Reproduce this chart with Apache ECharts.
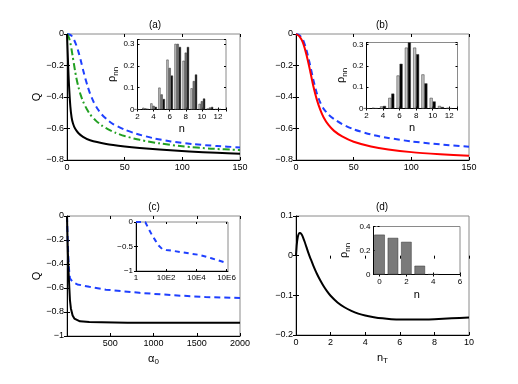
<!DOCTYPE html>
<html>
<head>
<meta charset="utf-8">
<script src="https://cdn.jsdelivr.net/npm/echarts@6/dist/echarts.min.js"></script>
<style>html,body{margin:0;padding:0;background:#fff}#main{width:518px;height:384px}</style>
</head>
<body>
<div id="main"></div>
<script>
// ---- panel (a) ----
const aBlackX = [0, 0.5, 1, 1.7, 2.9, 4, 5.2, 7, 10, 13.9, 20, 34, 50, 63, 80, 106, 130, 150]
const aBlackY = [0, -0.1, -0.2, -0.32, -0.46, -0.53, -0.568, -0.6, -0.63, -0.653, -0.675, -0.698, -0.714, -0.724, -0.734, -0.746, -0.754, -0.76]
const aGreenX = [0, 1, 2, 3, 4, 5, 6, 7, 8, 10, 12, 14, 17, 20, 25, 30, 35, 42, 50, 63, 80, 100, 125, 150]
const aGreenY = [0, -0.01, -0.03, -0.06, -0.1, -0.145, -0.19, -0.235, -0.275, -0.34, -0.39, -0.43, -0.475, -0.51, -0.55, -0.58, -0.603, -0.627, -0.648, -0.672, -0.694, -0.713, -0.728, -0.737]
const aBlueX = [0, 2, 4, 6, 8, 10, 12, 14, 16, 18, 20, 23, 26, 30, 35, 40, 50, 60, 75, 90, 110, 130, 150]
const aBlueY = [0, -0.003, -0.012, -0.035, -0.07, -0.115, -0.17, -0.23, -0.285, -0.335, -0.378, -0.43, -0.47, -0.51, -0.545, -0.572, -0.607, -0.633, -0.662, -0.682, -0.7, -0.711, -0.72]
// inset (a): photon distribution, three cases
const insetN = [2, 3, 4, 5, 6, 7, 8, 9, 10, 11, 12]
const aRho1 = [0.001, 0.008, 0.028, 0.1, 0.228, 0.3, 0.223, 0.097, 0.026, 0.005, 0.002]
const aRho2 = [0.001, 0.005, 0.017, 0.069, 0.19, 0.3, 0.26, 0.13, 0.038, 0.009, 0.002]
const aRho3 = [0, 0.003, 0.012, 0.048, 0.155, 0.286, 0.286, 0.16, 0.05, 0.012, 0.002]

// ---- panel (b) ----
const bX = [0, 3, 6, 9, 12, 15, 18, 21, 24, 28, 33, 40, 50, 65, 80, 100, 125, 150]
const bRedY = [0, -0.015, -0.055, -0.13, -0.225, -0.33, -0.415, -0.48, -0.53, -0.576, -0.615, -0.65, -0.684, -0.714, -0.733, -0.75, -0.763, -0.773]
const bBlueY = [0, -0.008, -0.035, -0.1, -0.19, -0.29, -0.375, -0.435, -0.475, -0.51, -0.54, -0.572, -0.605, -0.638, -0.66, -0.682, -0.701, -0.716]
const bRho1 = [0.001, 0.003, 0.01, 0.05, 0.155, 0.286, 0.286, 0.16, 0.05, 0.012, 0.003]
const bRho2 = [0, 0.001, 0.012, 0.07, 0.21, 0.31, 0.255, 0.118, 0.033, 0.007, 0.001]

// ---- panel (c) ----
const cBlackX = [0, 5, 10, 19, 27, 34, 45, 65, 85, 104, 150, 258, 400, 700, 1000, 1500, 2000]
const cBlackY = [0, -0.15, -0.3, -0.48, -0.6, -0.7, -0.77, -0.83, -0.855, -0.87, -0.878, -0.883, -0.886, -0.889, -0.889, -0.89, -0.89]
const cBlueX = [0, 3, 8, 14, 20, 34, 65, 120, 258, 450, 835, 1220, 1600, 2000]
const cBlueY = [0, -0.08, -0.2, -0.32, -0.42, -0.52, -0.55, -0.57, -0.59, -0.614, -0.64, -0.66, -0.675, -0.683]
// inset (c): x as log10(alpha0)
const cInsetLogX = [0, 0.3, 0.62, 0.84, 1.05, 1.29, 1.5, 1.73, 2.0, 2.4, 3.0, 3.6, 4.18, 5.0, 5.95]
const cInsetY = [0, 0, -0.005, -0.14, -0.26, -0.38, -0.48, -0.55, -0.57, -0.586, -0.615, -0.645, -0.67, -0.74, -0.83]
const cInsetTicks = [0, 2, 4, 6]

// ---- panel (d) ----
const dX = [0, 0.05, 0.1, 0.15, 0.2, 0.25, 0.32, 0.4, 0.5, 0.6, 0.7, 0.8, 0.9, 1, 1.2, 1.4, 1.6, 1.8, 2, 2.4, 2.8, 3.2, 3.6, 4, 4.5, 5, 5.5, 6, 7, 8, 9, 10]
const dY = [0, 0.03, 0.046, 0.054, 0.057, 0.057, 0.054, 0.047, 0.035, 0.022, 0.009, -0.003, -0.014, -0.025, -0.045, -0.062, -0.077, -0.09, -0.101, -0.118, -0.13, -0.139, -0.146, -0.151, -0.155, -0.158, -0.16, -0.161, -0.161, -0.16, -0.158, -0.156]
const dInsetN = [0, 1, 2, 3, 4]
const dInsetRho = [0.332, 0.305, 0.272, 0.073, 0.002]
const dInsetTicks = [0, 2, 4, 6]

const font = 'Liberation Sans, Arial, Helvetica, sans-serif'
const minus = v => String(v).replace('-', '\u2212')
const zip = (xs, ys) => xs.map((x, i) => [x, ys[i]])

const grids = [
  {left: 67, top: 34, width: 173, height: 126},     // a
  {left: 296, top: 34, width: 173, height: 126},    // b
  {left: 67, top: 216, width: 173, height: 120},    // c
  {left: 296, top: 216, width: 173, height: 119},   // d
  {left: 137.5, top: 39.5, width: 88.5, height: 70},  // inset a
  {left: 366.5, top: 42.5, width: 91, height: 66},    // inset b
  {left: 136, top: 222, width: 92, height: 49},       // inset c
  {left: 373.5, top: 226.5, width: 86.5, height: 48}  // inset d
].map(g => Object.assign(g, {show: true, borderColor: '#8a8a8a', borderWidth: 1, backgroundColor: '#fff'}))

const xAxes = [], yAxes = []
const nameStyle = {color: '#000', fontFamily: font, fontSize: 11,
  rich: {m: {fontSize: 11, fontFamily: font}, s: {fontSize: 8, fontFamily: font, verticalAlign: 'bottom', padding: [7, 0, 0, 0]}}}

// small: inset axes use a smaller label font
const addAxes = (gi, x, y, small) => {
  const tick = {inside: true, length: small ? 2 : 3, lineStyle: {color: '#000', width: 1}}
  const custom = x.custom ? {customValues: x.custom} : {}
  const fs = small ? 8 : 9
  xAxes.push({gridIndex: gi, type: 'value', min: x.min, max: x.max, interval: x.interval, position: 'bottom',
    axisLine: {onZero: false, lineStyle: {color: '#000', width: 1}},
    axisTick: Object.assign({}, tick, custom),
    axisLabel: Object.assign({color: '#000', fontSize: fs, fontFamily: font, margin: 3, formatter: x.fmt || minus}, custom),
    splitLine: {show: false}, name: x.name, nameLocation: 'middle', nameGap: x.gap, nameTextStyle: nameStyle})
  xAxes.push({gridIndex: gi, type: 'value', min: x.min, max: x.max, interval: x.interval, position: 'top',
    axisLine: {show: false}, axisTick: Object.assign({}, tick, custom),
    axisLabel: {show: false}, splitLine: {show: false}})
  yAxes.push({gridIndex: gi, type: 'value', min: y.min, max: y.max, interval: y.interval, position: 'left',
    axisLine: {onZero: false, lineStyle: {color: '#000', width: 1}}, axisTick: tick,
    axisLabel: {color: '#000', fontSize: fs, fontFamily: font, margin: 3, formatter: y.fmt || minus},
    splitLine: {show: false}, name: y.name, nameLocation: 'middle', nameRotate: 90, nameGap: y.gap, nameTextStyle: nameStyle})
  yAxes.push({gridIndex: gi, type: 'value', min: y.min, max: y.max, interval: y.interval, position: 'right',
    axisLine: {show: false}, axisTick: tick, axisLabel: {show: false}, splitLine: {show: false}})
}

const rhoName = '{m|\u03c1}{s|nn}'
addAxes(0, {min: 0, max: 150, interval: 50}, {min: -0.8, max: 0, interval: 0.2, name: 'Q', gap: 24})
addAxes(1, {min: 0, max: 150, interval: 50}, {min: -0.8, max: 0, interval: 0.2})
addAxes(2, {min: 0, max: 2000, interval: 500, fmt: v => v === 0 ? '' : v, name: '{m|\u03b1}{s|0}', gap: 15},
  {min: -1, max: 0, interval: 0.2, name: 'Q', gap: 24})
addAxes(3, {min: 0, max: 10, interval: 2, name: '{m|n}{s|T}', gap: 15}, {min: -0.2, max: 0.1, interval: 0.1})
addAxes(4, {min: 2, max: 13, interval: 2, fmt: v => v === 13 ? '' : v, name: 'n', gap: 14},
  {min: 0, max: 0.32, interval: 0.1, fmt: v => v > 0.31 ? '' : v, name: rhoName, gap: 16}, true)
addAxes(5, {min: 2, max: 13, interval: 2, fmt: v => v === 13 ? '' : v, name: 'n', gap: 14},
  {min: 0, max: 0.31, interval: 0.1, fmt: v => v > 0.305 ? '' : v, name: rhoName, gap: 16}, true)
addAxes(6, {min: 0, max: 6.1, custom: cInsetTicks, fmt: v => v === 0 ? '1' : '10E' + v},
  {min: -1, max: 0, interval: 0.5}, true)
addAxes(7, {min: -0.45, max: 6, custom: dInsetTicks, fmt: v => v, name: 'n', gap: 15},
  {min: 0, max: 0.4, interval: 0.2, name: rhoName, gap: 22}, true)

const line = (gi, data, color, type, smooth, z) => ({
  type: 'line', xAxisIndex: 2 * gi, yAxisIndex: 2 * gi, data, showSymbol: false, symbol: 'none',
  smooth: smooth === undefined ? 0.25 : smooth, clip: true, z: z || 2,
  lineStyle: {color, width: 2, type: type || 'solid', join: 'round', cap: 'butt'}
})
const bars = (gi, xs, ys, color, width) => ({
  type: 'bar', xAxisIndex: 2 * gi, yAxisIndex: 2 * gi, data: zip(xs, ys), barWidth: width, barGap: '0%',
  itemStyle: {color, borderColor: '#333', borderWidth: 0.5}, z: 5
})

const blue = '#1f40ff', dash = [6, 4]

const option = {
  animation: false,
  backgroundColor: '#fff',
  grid: grids,
  xAxis: xAxes,
  yAxis: yAxes,
  series: [
    line(0, zip(aBlueX, aBlueY), blue, dash),
    line(0, zip(aGreenX, aGreenY), '#22a022', [7, 3, 2, 3]),
    line(0, zip(aBlackX, aBlackY), '#000'),
    line(1, zip(bX, bBlueY), blue, dash),
    line(1, zip(bX, bRedY), '#ff0000'),
    line(2, zip(cBlueX, cBlueY), blue, dash, false),
    line(2, zip(cBlackX, cBlackY), '#000', 'solid', false),
    line(3, zip(dX, dY), '#000'),
    bars(4, insetN, aRho1, '#c4c4c4', 2.2),
    bars(4, insetN, aRho2, '#7a7a7a', 2.2),
    bars(4, insetN, aRho3, '#000', 2.2),
    bars(5, insetN, bRho1, '#c4c4c4', 3),
    bars(5, insetN, bRho2, '#000', 3),
    line(6, zip(cInsetLogX, cInsetY), blue, [5, 4], false, 5),
    bars(7, dInsetN, dInsetRho, '#7a7a7a', 10.5)
  ],
  graphic: [
    ['(a)', 155, 25], ['(b)', 382, 25], ['(c)', 154, 207], ['(d)', 382, 207]
  ].map(t => ({type: 'text', x: t[1], y: t[2], z: 100,
    style: {text: t[0], font: '10px ' + font, fill: '#000', textAlign: 'center', textVerticalAlign: 'middle'}}))
}

const chart = echarts.init(document.getElementById('main'))
chart.setOption(option)
</script>
</body>
</html>
